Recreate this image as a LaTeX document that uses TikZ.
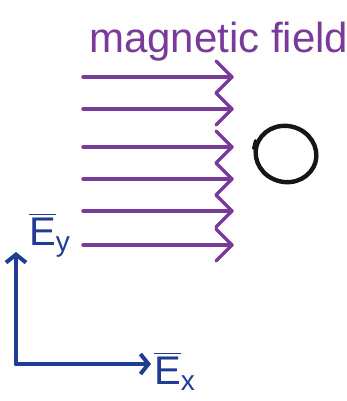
\documentclass[tikz,border=0pt]{standalone}
\usepackage{amsmath}
\usepackage{fontspec}
\setmainfont{Liberation Sans}
\usepackage{tikz}
\usetikzlibrary{positioning,arrows.meta,shapes.geometric}
\usepackage{xcolor}
\definecolor{fieldPurple}{HTML}{7A3A9A}
\definecolor{axisBlue}{HTML}{213C95}
\definecolor{loopBlack}{HTML}{161616}

\begin{document}
\begin{tikzpicture}[x=1pt, y=-1pt,
        fieldLine/.style={draw=fieldPurple, line width=3.4pt, line cap=round},
        chevronTip/.style={draw=fieldPurple, line width=3.4pt, line cap=round, line join=round},
        axisArrow/.style={draw=axisBlue, line width=4pt, line cap=round, -{Straight Barb[length=8pt, width=20pt]}},
        axisLabel/.style={text=axisBlue, font=\fontsize{40}{44}\selectfont, inner sep=0pt}
    ]
        \useasboundingbox (0,0) rectangle (347,401);

        % Titel
        \node[font=\fontsize{42}{48}\selectfont, text=fieldPurple, anchor=base west, inner sep=0pt] (title) at (89,53) {magnetic field};

        % Feldlinien
        \foreach \i/\yy in {1/77, 2/109, 3/147, 4/179, 5/211, 6/245} {
            \coordinate (start\i) at (83,\yy);
            \coordinate (tip\i) at (232,\yy);
            \draw[fieldLine] (start\i) -- (tip\i);
            \draw[chevronTip] (tip\i) ++(-16,-16) -- (tip\i) -- ++(-16,16);
        }

        % Leiterschleife
        \node[ellipse, draw=loopBlack, line width=4.4pt, minimum width=61pt, minimum height=56pt, rotate=-15] (loop) at (286,154) {};
        \draw[loopBlack, line width=3pt, line cap=round] (loop.west) ++(1,-5) -- ++(-2,8);

        % Achsen
        \coordinate (origin) at (16,364);
        \coordinate (yEnd) at (16,252);
        \coordinate (xEnd) at (151,364);
        \draw[axisArrow] (origin) -- (yEnd);
        \draw[axisArrow] (origin) -- (xEnd);
        \node[axisLabel, anchor=south west] (eyLabel) at (29,258) {$\overline{\text{E}}_{\text{y}}$};
        \node[axisLabel, anchor=north west] (exLabel) at (154,352) {$\overline{\text{E}}_{\text{x}}$};
    \end{tikzpicture}
\end{document}
